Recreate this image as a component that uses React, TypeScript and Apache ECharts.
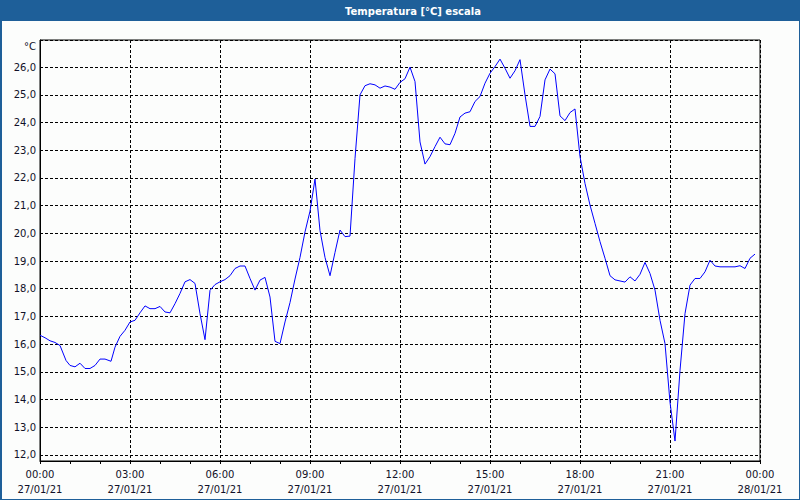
import React, { useEffect, useRef } from "react";
import * as echarts from "echarts";

const TITLE = "Temperatura [°C] escala";
const UNIT = "°C";

const times = [
  "00:00","00:10","00:20","00:30","00:40","00:52","01:00","01:10","01:20","01:30","01:40","01:50",
  "02:00","02:10","02:22","02:30","02:40","02:50","03:00","03:10","03:20","03:30","03:40","03:50",
  "04:00","04:10","04:20","04:30","04:40","04:50","05:00","05:10","05:20","05:30","05:40","05:50",
  "06:00","06:10","06:20","06:30","06:40","06:50","07:00","07:10","07:20","07:30","07:40","07:50",
  "08:00","08:10","08:20","08:30","08:40","08:50","09:00","09:10","09:20","09:30","09:40","09:50",
  "10:00","10:10","10:20","10:30","10:40","10:50","11:00","11:10","11:20","11:30","11:40","11:50",
  "12:00","12:10","12:20","12:30","12:40","12:50","13:00","13:10","13:20","13:30","13:40","13:50",
  "14:00","14:10","14:20","14:30","14:40","14:50","15:00","15:10","15:20","15:30","15:40","15:50",
  "16:00","16:10","16:20","16:30","16:40","16:50","17:00","17:10","17:20","17:30","17:40","17:50",
  "18:00","18:10","18:20","18:30","18:40","18:50","19:00","19:10","19:20","19:30","19:40","19:50",
  "20:00","20:10","20:20","20:30","20:40","20:50","21:00","21:10","21:20","21:30","21:40","21:50",
  "22:00","22:10","22:20","22:30","22:40","22:50","23:00","23:10","23:20","23:30","23:40","23:50"
];

const temperatures = [
  16.32, 16.23, 16.12, 16.06, 15.95, 15.41, 15.23, 15.18, 15.31, 15.12, 15.12, 15.23,
  15.46, 15.46, 15.38, 15.89, 16.28, 16.5, 16.8, 16.86, 17.13, 17.38, 17.28, 17.28,
  17.36, 17.16, 17.13, 17.46, 17.83, 18.25, 18.33, 18.19, 17.1, 16.16, 17.94, 18.15,
  18.25, 18.33, 18.47, 18.73, 18.82, 18.82, 18.37, 17.95, 18.31, 18.41, 17.7, 16.1,
  16.02, 16.8, 17.5, 18.35, 19.13, 20.05, 20.8, 21.96, 20.1, 19.13, 18.47, 19.31,
  20.12, 19.88, 19.9, 22.7, 25.0, 25.33, 25.4, 25.36, 25.24, 25.32, 25.28, 25.2,
  25.45, 25.58, 26.0, 25.48, 23.3, 22.5, 22.77, 23.13, 23.47, 23.23, 23.2, 23.61,
  24.2, 24.34, 24.39, 24.76, 24.94, 25.42, 25.78, 26.02, 26.29, 25.96, 25.6, 25.87,
  26.27, 25.0, 23.86, 23.86, 24.22, 25.54, 25.93, 25.76, 24.24, 24.07, 24.36, 24.49,
  22.77, 21.8, 21.02, 20.36, 19.7, 19.1, 18.47, 18.32, 18.28, 18.24, 18.43, 18.28,
  18.52, 18.95, 18.55, 17.95, 16.86, 16.02, 13.9, 12.5, 15.05, 17.1, 18.13, 18.37,
  18.37, 18.61, 19.03, 18.82, 18.79, 18.79, 18.79, 18.79, 18.83, 18.73, 19.1, 19.25
];

const dayLabels = ["27/01/21", "28/01/21"];

const toHours = (t: string) => {
  const [h, m] = t.split(":").map(Number);
  return h + m / 60;
};

const pad = (n: number) => (n < 10 ? "0" + n : "" + n);

export default function App() {
  const ref = useRef<HTMLDivElement>(null);

  useEffect(() => {
    if (!ref.current) return;
    const chart = echarts.init(ref.current, undefined, { renderer: "svg" });
    const data = times.map((t, i) => [toHours(t), temperatures[i]]);
    const font = "DejaVu Sans";
    const textColor = "#111128";
    chart.setOption({
      animation: false,
      backgroundColor: "#1e5f99",
      graphic: [
        {
          type: "rect",
          z: -10,
          silent: true,
          shape: { x: 2, y: 21, width: 797, height: 478 },
          style: { fill: "#fcfdfc" },
        },
        {
          type: "text",
          x: 413,
          y: 11,
          style: {
            text: TITLE,
            fill: "#ffffff",
            font: `bold 10px "${font}"`,
            textAlign: "center",
            textVerticalAlign: "middle",
          },
        },
        {
          type: "text",
          x: 36,
          y: 46,
          style: {
            text: UNIT,
            fill: textColor,
            font: `10px "${font}"`,
            textAlign: "right",
            textVerticalAlign: "middle",
          },
        },
      ],
      grid: {
        left: 40,
        right: 40,
        top: 40,
        bottom: 39,
        show: true,
        borderColor: "#000",
        borderWidth: 1,
        backgroundColor: "transparent",
      },
      xAxis: {
        type: "value",
        min: 0,
        max: 24,
        interval: 3,
        axisLine: { show: true, lineStyle: { color: "#000", width: 1 } },
        axisTick: { show: true, length: 3, lineStyle: { color: "#000" } },
        minorTick: { show: true, splitNumber: 3, length: 3, lineStyle: { color: "#000" } },
        splitLine: { show: true, lineStyle: { color: "#000", type: [3, 2], width: 1 } },
        axisLabel: {
          margin: 6,
          color: textColor,
          fontFamily: font,
          fontSize: 10,
          lineHeight: 15,
          formatter: (v: number) => {
            const h = Math.round(v);
            const day = h >= 24 ? dayLabels[1] : dayLabels[0];
            return `${pad(h % 24)}:00\n${day}`;
          },
        },
      },
      yAxis: {
        type: "value",
        min: 11.78,
        max: 26.98,
        splitNumber: 15,
        axisLine: { show: true, lineStyle: { color: "#000", width: 1 } },
        axisTick: { show: false },
        splitLine: { show: true, lineStyle: { color: "#000", type: [3, 2], width: 1 } },
        axisLabel: {
          margin: 4,
          color: textColor,
          fontFamily: font,
          fontSize: 10,
          showMinLabel: false,
          showMaxLabel: false,
          formatter: (v: number) =>
            Math.abs(v - Math.round(v)) < 1e-6 ? v.toFixed(1).replace(".", ",") : "",
        },
      },
      series: [
        {
          type: "line",
          data,
          showSymbol: false,
          symbol: "none",
          lineStyle: { color: "#0000ff", width: 1 },
          z: 5,
        },
      ],
    });
    return () => chart.dispose();
  }, []);

  return (
    <div
      ref={ref}
      style={{ position: "absolute", left: 0, top: 0, width: 800, height: 500 }}
    />
  );
}
